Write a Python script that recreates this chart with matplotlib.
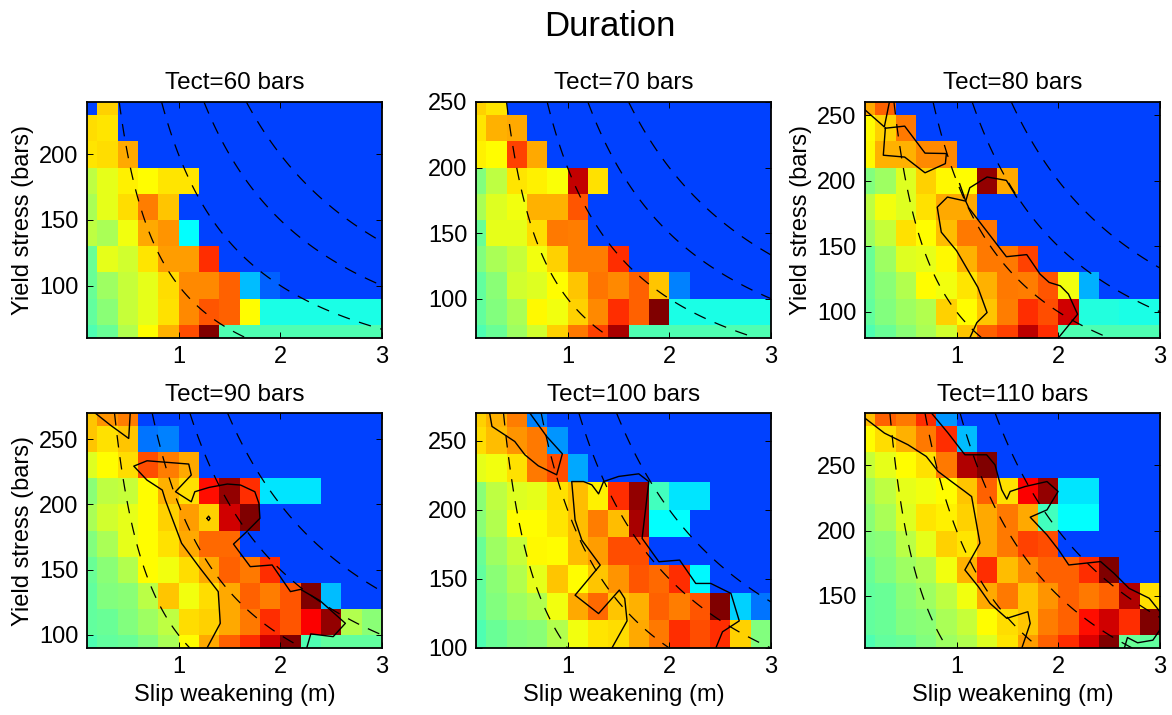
import numpy as np
import matplotlib.pyplot as plt
from matplotlib.colors import LinearSegmentedColormap

plt.rcParams['font.family'] = ['Liberation Sans', 'DejaVu Sans']
plt.rcParams['lines.scale_dashes'] = False
plt.rcParams['lines.dashed_pattern'] = [9, 7]

# matlab style jet
jet_m = LinearSegmentedColormap.from_list('jet_m', [
    (0.0, (0, 0, 0.5)), (1 / 8, (0, 0, 1)), (3 / 8, (0, 1, 1)),
    (5 / 8, (1, 1, 0)), (7 / 8, (1, 0, 0)), (1.0, (0.5, 0, 0))])

# ---- data (duration, normalised colour scale 0-1) ----
tect = [60, 70, 80, 90, 100, 110]
slip = [0.1, 0.3, 0.5, 0.7, 0.9, 1.1, 1.3, 1.5, 1.7, 1.9, 2.1, 2.3, 2.5, 2.7, 2.9]
b = 0.19  # no rupture

# rows listed from top (highest yield stress) to bottom
yield_60 = [240, 220, 200, 180, 160, 140, 120, 100, 80, 60]
dur_60 = [
    [b, .67, b, b, b, b, b, b, b, b, b, b, b, b, b],
    [.66, .65, b, b, b, b, b, b, b, b, b, b, b, b, b],
    [.65, .66, .71, b, b, b, b, b, b, b, b, b, b, b, b],
    [.56, .60, .64, .625, .65, .65, b, b, b, b, b, b, b, b, b],
    [.54, .60, .66, .75, .68, b, b, b, b, b, b, b, b, b, b],
    [.56, .54, .61, .71, .73, .375, b, b, b, b, b, b, b, b, b],
    [.48, .60, .58, .65, .72, .72, .83, b, b, b, b, b, b, b, b],
    [.48, .53, .57, .60, .66, .74, .74, .78, .31, .22, b, b, b, b, b],
    [.47, .51, .57, .60, .655, .74, .79, .78, .625, .40, .40, .40, .40, .40, .40],
    [.45, .48, .55, .625, .70, .80, 1.0, .45, .45, .45, .45, .45, .45, .45, .45],
]

yield_70 = [250, 230, 210, 190, 170, 150, 130, 110, 90, 70]
dur_70 = [
    [.67, .65, b, b, b, b, b, b, b, b, b, b, b, b, b],
    [.65, .70, .71, b, b, b, b, b, b, b, b, b, b, b, b],
    [.64, .625, .81, .71, b, b, b, b, b, b, b, b, b, b, b],
    [.50, .56, .65, .64, .62, .93, .655, b, b, b, b, b, b, b, b],
    [.54, .59, .61, .70, .70, .79, b, b, b, b, b, b, b, b, b],
    [.48, .60, .60, .66, .755, .75, b, b, b, b, b, b, b, b, b],
    [.50, .54, .57, .61, .67, .75, .75, .83, b, b, b, b, b, b, b],
    [.47, .51, .58, .59, .625, .68, .76, .74, .78, .68, .25, b, b, b, b],
    [.47, .50, .54, .63, .61, .67, .74, .83, .78, 1.0, .40, .40, .40, .40, .40],
    [.45, .48, .53, .58, .67, .755, .81, .96, .45, .45, .45, .45, .45, .45, .45],
]

yield_80 = [260, 240, 220, 200, 180, 160, 140, 120, 100, 80]
dur_80 = [
    [.71, .78, b, b, b, b, b, b, b, b, b, b, b, b, b],
    [.625, .67, .755, b, b, b, b, b, b, b, b, b, b, b, b],
    [.63, .70, .70, .74, .74, b, b, b, b, b, b, b, b, b, b],
    [.50, .53, .59, .67, .63, .625, .98, .71, b, b, b, b, b, b, b],
    [.56, .61, .59, .655, .71, .71, b, b, b, b, b, b, b, b, b],
    [.53, .57, .655, .625, .69, .755, .755, b, b, b, b, b, b, b, b],
    [.48, .53, .59, .60, .63, .70, .755, .755, .81, b, b, b, b, b, b],
    [.48, .51, .55, .625, .61, .65, .70, .755, .75, .79, .61, .30, b, b, b],
    [.47, .50, .53, .55, .67, .625, .68, .75, .83, .80, .92, .41, .41, .40, .40],
    [.45, .48, .51, .54, .58, .68, .78, .81, .94, .83, .45, .45, .45, .45, .45],
]

yield_90 = [270, 250, 230, 210, 190, 170, 150, 130, 110, 90]
dur_90 = [
    [.68, .73, .75, b, b, b, b, b, b, b, b, b, b, b, b],
    [.68, .655, .68, .24, .25, b, b, b, b, b, b, b, b, b, b],
    [.59, .625, .66, .80, .75, .71, b, b, b, b, b, b, b, b, b],
    [.51, .56, .57, .625, .70, .655, .86, .98, .83, .35, .35, .35, b, b, b],
    [.54, .58, .60, .625, .67, .72, .67, .92, 1.0, b, b, b, b, b, b],
    [.50, .54, .60, .625, .655, .71, .77, .77, b, b, b, b, b, b, b],
    [.48, .51, .55, .625, .61, .66, .71, .78, .755, .83, b, b, b, b, b],
    [.47, .50, .51, .555, .68, .61, .66, .71, .78, .75, .79, 1.0, .31, b, b],
    [.47, .48, .50, .53, .56, .66, .67, .71, .755, .83, .79, .875, .98, .55, .51],
    [.45, .47, .48, .50, .54, .625, .71, .78, .83, .92, 1.0, .45, .47, .47, .47],
]

yield_100 = [270, 250, 230, 210, 190, 170, 150, 130, 110]
dur_100 = [
    [.67, .70, .75, .25, b, b, b, b, b, b, b, b, b, b, b],
    [.66, .69, .73, .755, .27, b, b, b, b, b, b, b, b, b, b],
    [.60, .61, .655, .755, .80, .29, b, b, b, b, b, b, b, b, b],
    [.51, .56, .59, .60, .655, .69, .64, .83, .98, .44, .35, .35, b, b, b],
    [.51, .55, .625, .625, .65, .69, .75, .69, .96, .375, .375, b, b, b, b],
    [.48, .53, .57, .63, .625, .69, .72, .80, .80, b, b, b, b, b, b],
    [.47, .51, .55, .60, .68, .625, .68, .73, .79, .77, .83, .37, b, b, b],
    [.47, .50, .53, .55, .61, .71, .77, .68, .70, .78, .75, .79, 1.0, .33, .24],
    [.45, .48, .50, .51, .55, .61, .65, .66, .71, .755, .83, .80, .83, .67, .50],
]

yield_110 = [290, 270, 250, 230, 210, 190, 170, 150, 130, 110]
dur_110 = [
    [.69, .78, .755, .83, .27, b, b, b, b, b, b, b, b, b, b],
    [.625, .66, .70, .755, .83, .31, b, b, b, b, b, b, b, b, b],
    [.57, .60, .625, .655, .755, .95, 1.0, b, b, b, b, b, b, b, b],
    [.53, .56, .60, .61, .625, .68, .78, .655, .875, .98, .35, .35, b, b, b],
    [.51, .54, .59, .65, .64, .67, .71, .755, .71, .44, .375, .375, b, b, b],
    [.50, .51, .555, .60, .67, .65, .71, .755, .81, .80, b, b, b, b, b],
    [.48, .50, .53, .55, .61, .70, .83, .69, .74, .78, .78, .83, 1.0, b, b],
    [.47, .48, .51, .53, .56, .61, .71, .755, .68, .73, .78, .755, .78, .95, .655],
    [.47, .48, .50, .51, .54, .57, .625, .66, .68, .75, .78, .86, .92, .83, 1.0],
    [.45, .47, .48, .50, .53, .55, .59, .65, .72, .78, .83, .91, 1.0, .48, .47],
]

ylims = [(60, 240), (70, 250), (80, 260), (90, 270), (100, 270), (110, 290)]
yticks = [[100, 150, 200], [100, 150, 200, 250], [100, 150, 200, 250],
          [100, 150, 200, 250], [100, 150, 200, 250], [150, 200, 250]]

# dashed reference curves: slip weakening * yield stress
gc_levels = [100, 200, 300, 400]

# solid contour lines (x, y)
front_60 = []
front_70 = []
front_80 = [
    [(0.10, 254), (0.29, 241), (0.34, 260)],
    [(0.30, 240), (0.49, 241.6), (0.69, 221), (0.90, 220.7), (0.89, 213), (0.69, 206),
     (0.49, 218), (0.28, 219.4), (0.30, 240)],
    [(1.59, 187.5), (1.49, 200.2), (1.30, 202.8), (1.13, 194.6), (1.09, 184.4), (0.91, 187.5),
     (0.81, 179.8), (0.85, 160.7), (1.00, 146.6), (1.21, 118.6), (1.30, 99.4), (1.20, 91.8),
     (1.13, 80)],
    [(1.03, 197.7), (1.09, 184.4), (1.12, 179.3), (1.49, 142), (1.69, 143.6), (1.82, 128.8),
     (1.91, 122.4), (2.02, 119.8), (2.10, 113.5), (2.19, 98.1), (2.00, 80)],
]
front_90 = [
    [(0.18, 270), (0.33, 260.7), (0.51, 250.5), (0.525, 270)],
    [(1.28, 90), (1.41, 108.9), (1.39, 133.2), (1.20, 152.3), (1.03, 170.2), (0.87, 203.3),
     (0.84, 211), (0.69, 218.6), (0.56, 229.3), (0.69, 233.4), (1.10, 230.9), (1.125, 222.5),
     (0.97, 209.7), (1.125, 202), (1.16, 209.7), (1.30, 213), (1.48, 215.6), (1.61, 214.8),
     (1.75, 209.7), (1.79, 200.8), (1.80, 189.3), (1.67, 179.1), (1.54, 169.6), (1.705, 152.3),
     (1.92, 153.6), (2.10, 133.2), (2.20, 134.9), (2.39, 126.3), (2.64, 108.9), (2.52, 98.7),
     (2.30, 100.8), (2.26, 90)],
    [(1.28, 189.3), (1.295, 191), (1.31, 189.3), (1.295, 187.6), (1.28, 189.3)],
]
front_100 = [
    [(0.234, 270), (0.257, 260.3), (0.481, 249.4), (0.58, 239.8), (0.712, 231.8),
     (0.893, 225.3), (0.949, 240.5), (0.794, 253.1), (0.629, 270)],
    [(1.436, 100), (1.585, 119.6), (1.562, 135.8), (1.509, 141.9), (1.305, 124.9),
     (1.074, 138.2), (1.321, 160), (1.14, 178.1), (1.074, 192.6), (1.041, 220.4),
     (1.157, 220.4), (1.239, 218), (1.305, 211.5), (1.354, 220.4), (1.502, 224.1),
     (1.70, 226), (1.799, 220.4), (1.733, 179.3), (1.898, 162.4), (2.102, 163.6),
     (2.26, 146.7), (2.408, 146.7), (2.606, 139.5), (2.688, 119.6), (2.523, 111.7),
     (2.458, 100)],
]
front_110 = [
    [(0.10, 286), (0.291, 274.6), (0.522, 265.7), (0.703, 256.7), (0.819, 245.2),
     (0.95, 237.5), (1.082, 229.9), (1.148, 226), (1.23, 190.3), (1.082, 169.8),
     (1.214, 157), (1.329, 144.2), (1.494, 132.7), (1.701, 137.8), (1.724, 128.9),
     (1.642, 110)],
    [(0.753, 290), (0.917, 274.6), (1.082, 258), (1.296, 258), (1.378, 250.3),
     (1.444, 231.2), (1.494, 224), (1.527, 229.9), (1.675, 233.7), (1.889, 237.5),
     (1.998, 229.9), (1.889, 215.8), (1.724, 210.2), (1.889, 196.6), (2.004, 185.1),
     (2.103, 173.6), (2.416, 176.2), (2.548, 167.2), (2.696, 155.7), (2.894, 148.1),
     (3.0, 137.8)],
    [(2.65, 110), (2.68, 118), (2.78, 114), (2.93, 116), (3.0, 124)],
]

durs = [dur_60, dur_70, dur_80, dur_90, dur_100, dur_110]
yields = [yield_60, yield_70, yield_80, yield_90, yield_100, yield_110]
fronts = [front_60, front_70, front_80, front_90, front_100, front_110]


def edges(c):
    c = np.asarray(c, dtype=float)
    mid = (c[1:] + c[:-1]) / 2
    return np.concatenate([[2 * c[0] - mid[0]], mid, [2 * c[-1] - mid[-1]]])


W, H = 1172, 715
fig = plt.figure(figsize=(W / 100, H / 100), dpi=100)

lefts = [87, 476, 865]
rows = [(102, 338), (413, 648)]

for i in range(6):
    top, bot = rows[i // 3]
    left = lefts[i % 3]
    ax = fig.add_axes([left / W, 1 - bot / H, 295 / W, (bot - top) / H])

    ax.pcolormesh(edges(slip), edges(yields[i]), np.array(durs[i]),
                  cmap=jet_m, vmin=0, vmax=1, shading='flat')

    lo, hi = ylims[i]
    X, Y = np.meshgrid(np.linspace(0.1, 3.0, 300), np.linspace(lo, hi, 300))
    ax.contour(X, Y, X * Y, levels=gc_levels, colors='k', linewidths=0.9,
               linestyles='dashed')

    for line in fronts[i]:
        xs, ys = zip(*line)
        ax.plot(xs, ys, color='k', lw=1.0)

    ax.set_xlim(0.1, 3.0)
    ax.set_ylim(lo, hi)
    ax.set_xticks([1, 2, 3])
    ax.set_yticks(yticks[i])
    ax.tick_params(direction='in', top=True, right=True, length=4, width=0.7,
                   labelsize=17, pad=6)
    for s in ax.spines.values():
        s.set_linewidth(1.3)

    ax.set_title('Tect=%d bars' % tect[i], fontsize=17.5, pad=9)
    if i in (0, 2, 3):
        ax.set_ylabel('Yield stress (bars)', fontsize=17, labelpad=4)
    if i >= 3:
        ax.set_xlabel('Slip weakening (m)', fontsize=17, labelpad=4)

fig.text(610 / W, 1 - 27 / H, 'Duration', ha='center', va='center', fontsize=25)

fig.savefig('out.png', dpi=100)
